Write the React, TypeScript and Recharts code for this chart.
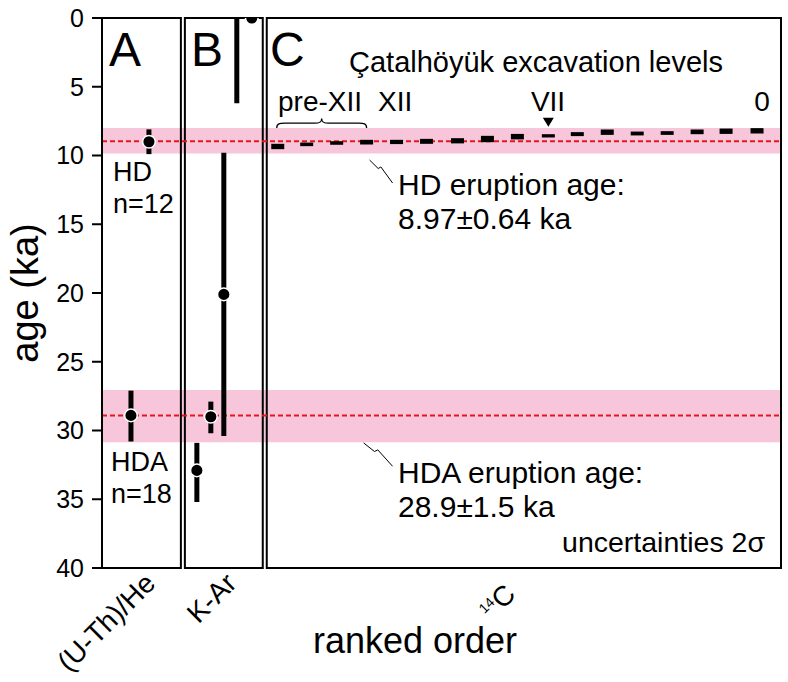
import React from 'react'
import {
  ScatterChart,
  Scatter,
  XAxis,
  YAxis,
  ErrorBar,
  ReferenceArea,
  ReferenceLine,
  ReferenceDot,
  Customized,
} from 'recharts'

const FONT = '"Liberation Sans", Arial, Helvetica, sans-serif'
const PINK = '#f8c6da'
const RED = '#e3171b'

// y axis (age, ka)
const AGE_TICKS = [0, 5, 10, 15, 20, 25, 30, 35, 40]

// panel frames in ranked-order units
const PANEL_X1 = [0, 8.3, 16.5]
const PANEL_X2 = [7.9, 16.1, 68]

// eruption ages and their bands
const ERUPTION_AGE = [8.97, 28.9]
const BAND_LOW = [8.0, 27.05]
const BAND_HIGH = [9.85, 30.85]

// A: (U-Th)/He
const UTHHE_RANK = [2.9, 4.7]
const UTHHE_AGE = [28.9, 9.0]
const UTHHE_LOW = [27.1, 8.1]
const UTHHE_HIGH = [30.8, 9.9]

// B: K-Ar
const KAR_RANK = [9.5, 10.9, 12.2, 13.5, 15.0]
const KAR_AGE = [32.9, 29.0, 20.1, 3.1, 0.0]
const KAR_LOW = [30.9, 27.9, 9.8, 0.0, 0.0]
const KAR_HIGH = [35.2, 30.2, 30.4, 6.2, 0.0]
const KAR_DOT = [true, true, true, false, true]

// C: 14C, Catalhoyuk levels
const C14_RANK = [17.6, 20.5, 23.5, 26.5, 29.5, 32.5, 35.6, 38.6, 41.6, 44.7, 47.6, 50.6, 53.6, 56.6, 59.6, 62.5, 65.6]
const C14_LOW = [9.15, 9.06, 8.96, 8.86, 8.86, 8.79, 8.74, 8.57, 8.43, 8.45, 8.3, 8.11, 8.26, 8.23, 8.11, 8.04, 8.01]
const C14_HIGH = [9.54, 9.32, 9.22, 9.2, 9.17, 9.15, 9.12, 9.03, 8.83, 8.69, 8.59, 8.5, 8.54, 8.5, 8.45, 8.43, 8.4]

const uthhe = UTHHE_RANK.map((x, i) => ({
  x,
  y: UTHHE_AGE[i],
  err: [UTHHE_AGE[i] - UTHHE_LOW[i], UTHHE_HIGH[i] - UTHHE_AGE[i]],
}))
const kar = KAR_RANK.map((x, i) => ({
  x,
  y: KAR_AGE[i],
  dot: KAR_DOT[i],
  err: [KAR_AGE[i] - KAR_LOW[i], KAR_HIGH[i] - KAR_AGE[i]],
}))
const c14 = C14_RANK.map((x, i) => {
  const mid = (C14_LOW[i] + C14_HIGH[i]) / 2
  return { x, y: mid, err: [mid - C14_LOW[i], C14_HIGH[i] - mid] }
})

const Nothing = () => <g />

const Dot = (p: any) => {
  if (p.payload && p.payload.dot === false) return <g />
  return <circle cx={p.cx} cy={p.cy} r={6.3} fill="#000" stroke="#fff" strokeWidth={1.5} />
}

// zigzag leader from label to line
const Leader = (p: any) => {
  const { x, y, width: w, height: h } = p
  return (
    <path
      d={`M${x},${y} L${x + 0.375 * w},${y + 0.37 * h} L${x + 0.49 * w},${y + 0.3 * h} L${x + w},${y + h}`}
      fill="none"
      stroke="#000"
      strokeWidth={1}
    />
  )
}

// curly brace over the pre-XII dates
const Brace = (p: any) => {
  const { x, y, width: w, height: h } = p
  const m = x + w / 2
  const b = y + h * 0.5
  return (
    <path
      d={`M${x},${y + h} C${x},${b} ${x + 3},${b} ${x + 8},${b} L${m - 7},${b} C${m - 2},${b} ${m},${b - 1} ${m},${y} C${m},${b - 1} ${m + 2},${b} ${m + 7},${b} L${x + w - 8},${b} C${x + w - 3},${b} ${x + w},${b} ${x + w},${y + h}`}
      fill="none"
      stroke="#000"
      strokeWidth={1.3}
    />
  )
}

const Marker = (p: any) => (
  <path d={`M${p.cx - 5.5},${p.cy - 4} L${p.cx + 5.5},${p.cy - 4} L${p.cx},${p.cy + 5} Z`} fill="#000" />
)

function Annotations() {
  return (
    <g fontFamily={FONT} fill="#000">
      <text x={109} y={66} fontSize={48}>A</text>
      <text x={191} y={66} fontSize={48}>B</text>
      <text x={270} y={66} fontSize={48}>C</text>
      <text x={349} y={72} fontSize={29}>Çatalhöyük excavation levels</text>
      <text x={278} y={111} fontSize={28}>pre-XII</text>
      <text x={378} y={111} fontSize={28}>XII</text>
      <text x={548} y={111} fontSize={28} textAnchor="middle">VII</text>
      <text x={762} y={111} fontSize={28} textAnchor="middle">0</text>
      <text x={113} y={181} fontSize={27}>HD</text>
      <text x={113} y={213} fontSize={27}>n=12</text>
      <text x={111} y={471} fontSize={27}>HDA</text>
      <text x={111} y={503} fontSize={27}>n=18</text>
      <text x={398} y={195} fontSize={30}>HD eruption age:</text>
      <text x={398} y={229} fontSize={30}>8.97±0.64 ka</text>
      <text x={398} y={483} fontSize={30}>HDA eruption age:</text>
      <text x={398} y={517} fontSize={30}>28.9±1.5 ka</text>
      <text x={765} y={552} fontSize={28.5} textAnchor="end">uncertainties 2σ</text>
      <text transform="translate(38,293) rotate(-90)" textAnchor="middle" fontSize={38}>age (ka)</text>
      <text x={415} y={653} fontSize={36} textAnchor="middle">ranked order</text>
      <text transform="translate(157,585) rotate(-45)" textAnchor="end" fontSize={28}>(U-Th)/He</text>
      <text transform="translate(238,585) rotate(-45)" textAnchor="end" fontSize={28}>K-Ar</text>
      <text transform="translate(517,596) rotate(-45)" textAnchor="end" fontSize={28}>
        <tspan fontSize={14} dy={-10}>14</tspan>
        <tspan dy={10}>C</tspan>
      </text>
    </g>
  )
}

export default function App() {
  return (
    <div style={{ position: 'absolute', left: 0, top: 0, background: '#fff' }}>
      <ScatterChart width={788} height={682} margin={{ top: 18, right: 7, bottom: 114, left: 42 }}>
        <XAxis type="number" dataKey="x" domain={[0, 68]} hide />
        <YAxis
          type="number"
          dataKey="y"
          domain={[0, 40]}
          reversed
          ticks={AGE_TICKS}
          width={60}
          tickSize={10}
          tickMargin={8}
          interval={0}
          allowDataOverflow
          axisLine={{ stroke: '#000', strokeWidth: 2 }}
          tickLine={{ stroke: '#000', strokeWidth: 2 }}
          tick={{ fontSize: 25, fill: '#000', fontFamily: FONT }}
        />
        {BAND_LOW.map((lo, i) => (
          <ReferenceArea key={'band' + i} y1={lo} y2={BAND_HIGH[i]} fill={PINK} fillOpacity={1} stroke="none" />
        ))}
        {ERUPTION_AGE.map((a, i) => (
          <ReferenceLine key={'age' + i} y={a} stroke={RED} strokeWidth={2} strokeDasharray="5 3" />
        ))}
        {PANEL_X1.map((x1, i) => (
          <ReferenceArea
            key={'panel' + i}
            x1={x1}
            x2={PANEL_X2[i]}
            y1={0}
            y2={40}
            fill="none"
            stroke="#000"
            strokeWidth={2}
          />
        ))}
        <ReferenceArea x1={17.5} x2={26.5} y1={7.3} y2={8.0} shape={Brace} />
        <ReferenceDot x={C14_RANK[9]} y={7.55} r={5} shape={Marker} />
        <ReferenceArea x1={26.8} x2={29.1} y1={10.33} y2={12.0} shape={Leader} />
        <ReferenceArea x1={26.2} x2={29.1} y1={30.9} y2={32.6} shape={Leader} />

        <Scatter data={c14} shape={Nothing} isAnimationActive={false}>
          <ErrorBar dataKey="err" direction="y" width={0} strokeWidth={13} stroke="#000" />
        </Scatter>
        <Scatter data={uthhe} shape={Nothing} isAnimationActive={false}>
          <ErrorBar dataKey="err" direction="y" width={0} strokeWidth={5} stroke="#000" />
        </Scatter>
        <Scatter data={kar} shape={Nothing} isAnimationActive={false}>
          <ErrorBar dataKey="err" direction="y" width={0} strokeWidth={5} stroke="#000" />
        </Scatter>
        <Scatter data={uthhe} shape={Dot} isAnimationActive={false} />
        <Scatter data={kar} shape={Dot} isAnimationActive={false} />
        <Customized component={Annotations} />
      </ScatterChart>
    </div>
  )
}
